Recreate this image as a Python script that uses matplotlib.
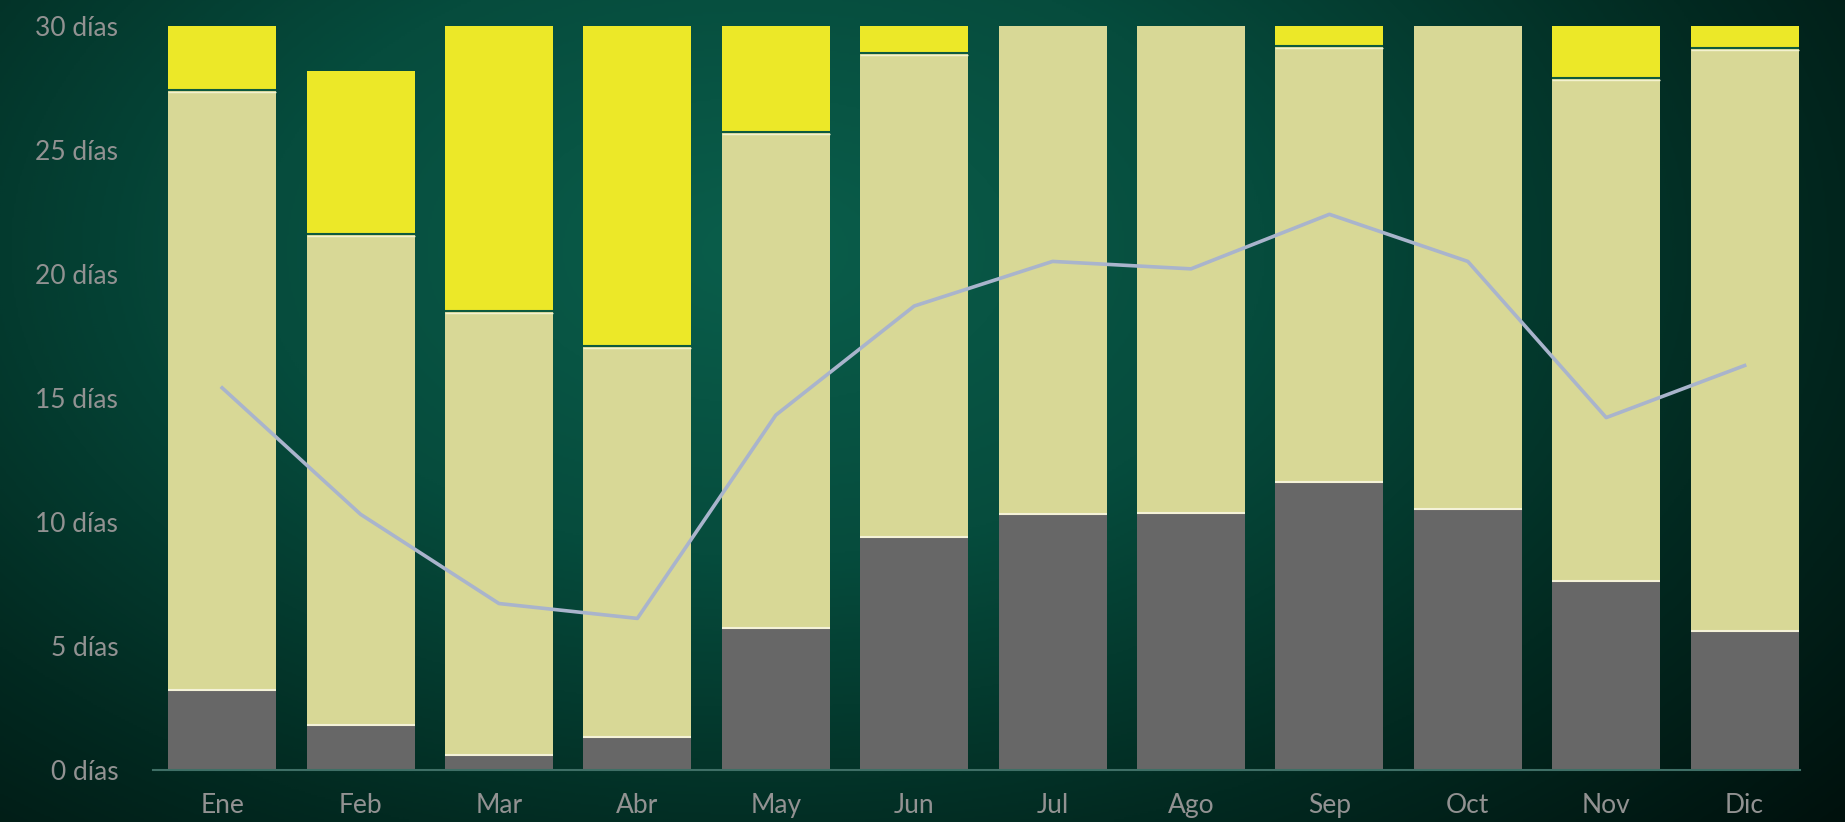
import numpy as np
import matplotlib.pyplot as plt
from matplotlib.colors import LinearSegmentedColormap

meses = ["Ene", "Feb", "Mar", "Abr", "May", "Jun", "Jul", "Ago", "Sep", "Oct", "Nov", "Dic"]
# limites acumulados de cada tramo (dias)
gris = [3.2, 1.8, 0.6, 1.3, 5.7, 9.4, 10.3, 10.35, 11.6, 10.5, 7.6, 5.6]
caqui = [27.4, 21.6, 18.5, 17.1, 25.7, 28.9, 30.0, 30.0, 29.2, 30.0, 27.9, 29.1]
amarillo = [30.0, 28.2, 30.0, 30.0, 30.0, 30.0, 30.0, 30.0, 30.0, 30.0, 30.0, 30.0]
linea = [15.4, 10.3, 6.7, 6.1, 14.3, 18.7, 20.5, 20.2, 22.4, 20.5, 14.2, 16.3]
yticks = [0, 5, 10, 15, 20, 25, 30]

fig = plt.figure(figsize=(18.45, 8.22), dpi=100)

# fondo degradado
bg = fig.add_axes([0, 0, 1, 1], zorder=-10)
h, w = 411, 922
yy, xx = np.mgrid[0:h, 0:w]
d = np.sqrt(((xx * 2 - 760) / 1250.0) ** 2 + ((yy * 2 - 250) / 760.0) ** 2)
cmap = LinearSegmentedColormap.from_list("fondo", ["#0a5e4b", "#064c3d", "#022a21", "#000d0a"])
bg.imshow(np.clip(d, 0, 1.2), cmap=cmap, vmin=0, vmax=1.2, aspect="auto", interpolation="bilinear")
bg.axis("off")

ax = fig.add_axes([0.0829, 0.0637, 0.8927, 0.9048])
ax.patch.set_alpha(0)
x = np.arange(len(meses))
ancho = 0.78

base2 = np.array(gris)
base3 = np.array(caqui)
ax.bar(x, gris, width=ancho, color="#676767", linewidth=0, zorder=2)
ax.bar(x, base3 - base2, bottom=base2, width=ancho, color="#d8d896", linewidth=0, zorder=2)
ax.bar(x, np.array(amarillo) - base3, bottom=base3, width=ancho, color="#ece828", linewidth=0, zorder=2)
# separaciones finas entre tramos
ax.hlines(gris, x - ancho / 2, x + ancho / 2, color="#f4f2d8", linewidth=1.5, zorder=3)
for xi, c, a in zip(x, caqui, amarillo):
    if a - c > 0.05:
        ax.hlines(c, xi - ancho / 2, xi + ancho / 2, color="#0e5a3e", linewidth=1.5, zorder=3)
        ax.hlines(c - 0.08, xi - ancho / 2, xi + ancho / 2, color="#f4f2d0", linewidth=1.0, zorder=3)

ax.plot(x, linea, color="#a9b4cc", linewidth=2.6, zorder=4, solid_joinstyle="round")

ax.set_xlim(-0.5, 11.4)
ax.set_ylim(0, 30)
ax.set_yticks(yticks)
ax.set_yticklabels([f"{v} días" for v in yticks])
ax.set_xticks(x)
ax.set_xticklabels(meses)
ax.tick_params(axis="y", length=0, pad=25, labelsize=19, labelcolor="#929292")
ax.tick_params(axis="x", length=0, pad=17, labelsize=19, labelcolor="#929292")
for lbl in ax.get_xticklabels() + ax.get_yticklabels():
    lbl.set_family("Lato")
for s in ["top", "right", "left"]:
    ax.spines[s].set_visible(False)
ax.spines["bottom"].set_color("#3f6f66")
ax.spines["bottom"].set_linewidth(1.5)

fig.savefig("out.png", dpi=100)
